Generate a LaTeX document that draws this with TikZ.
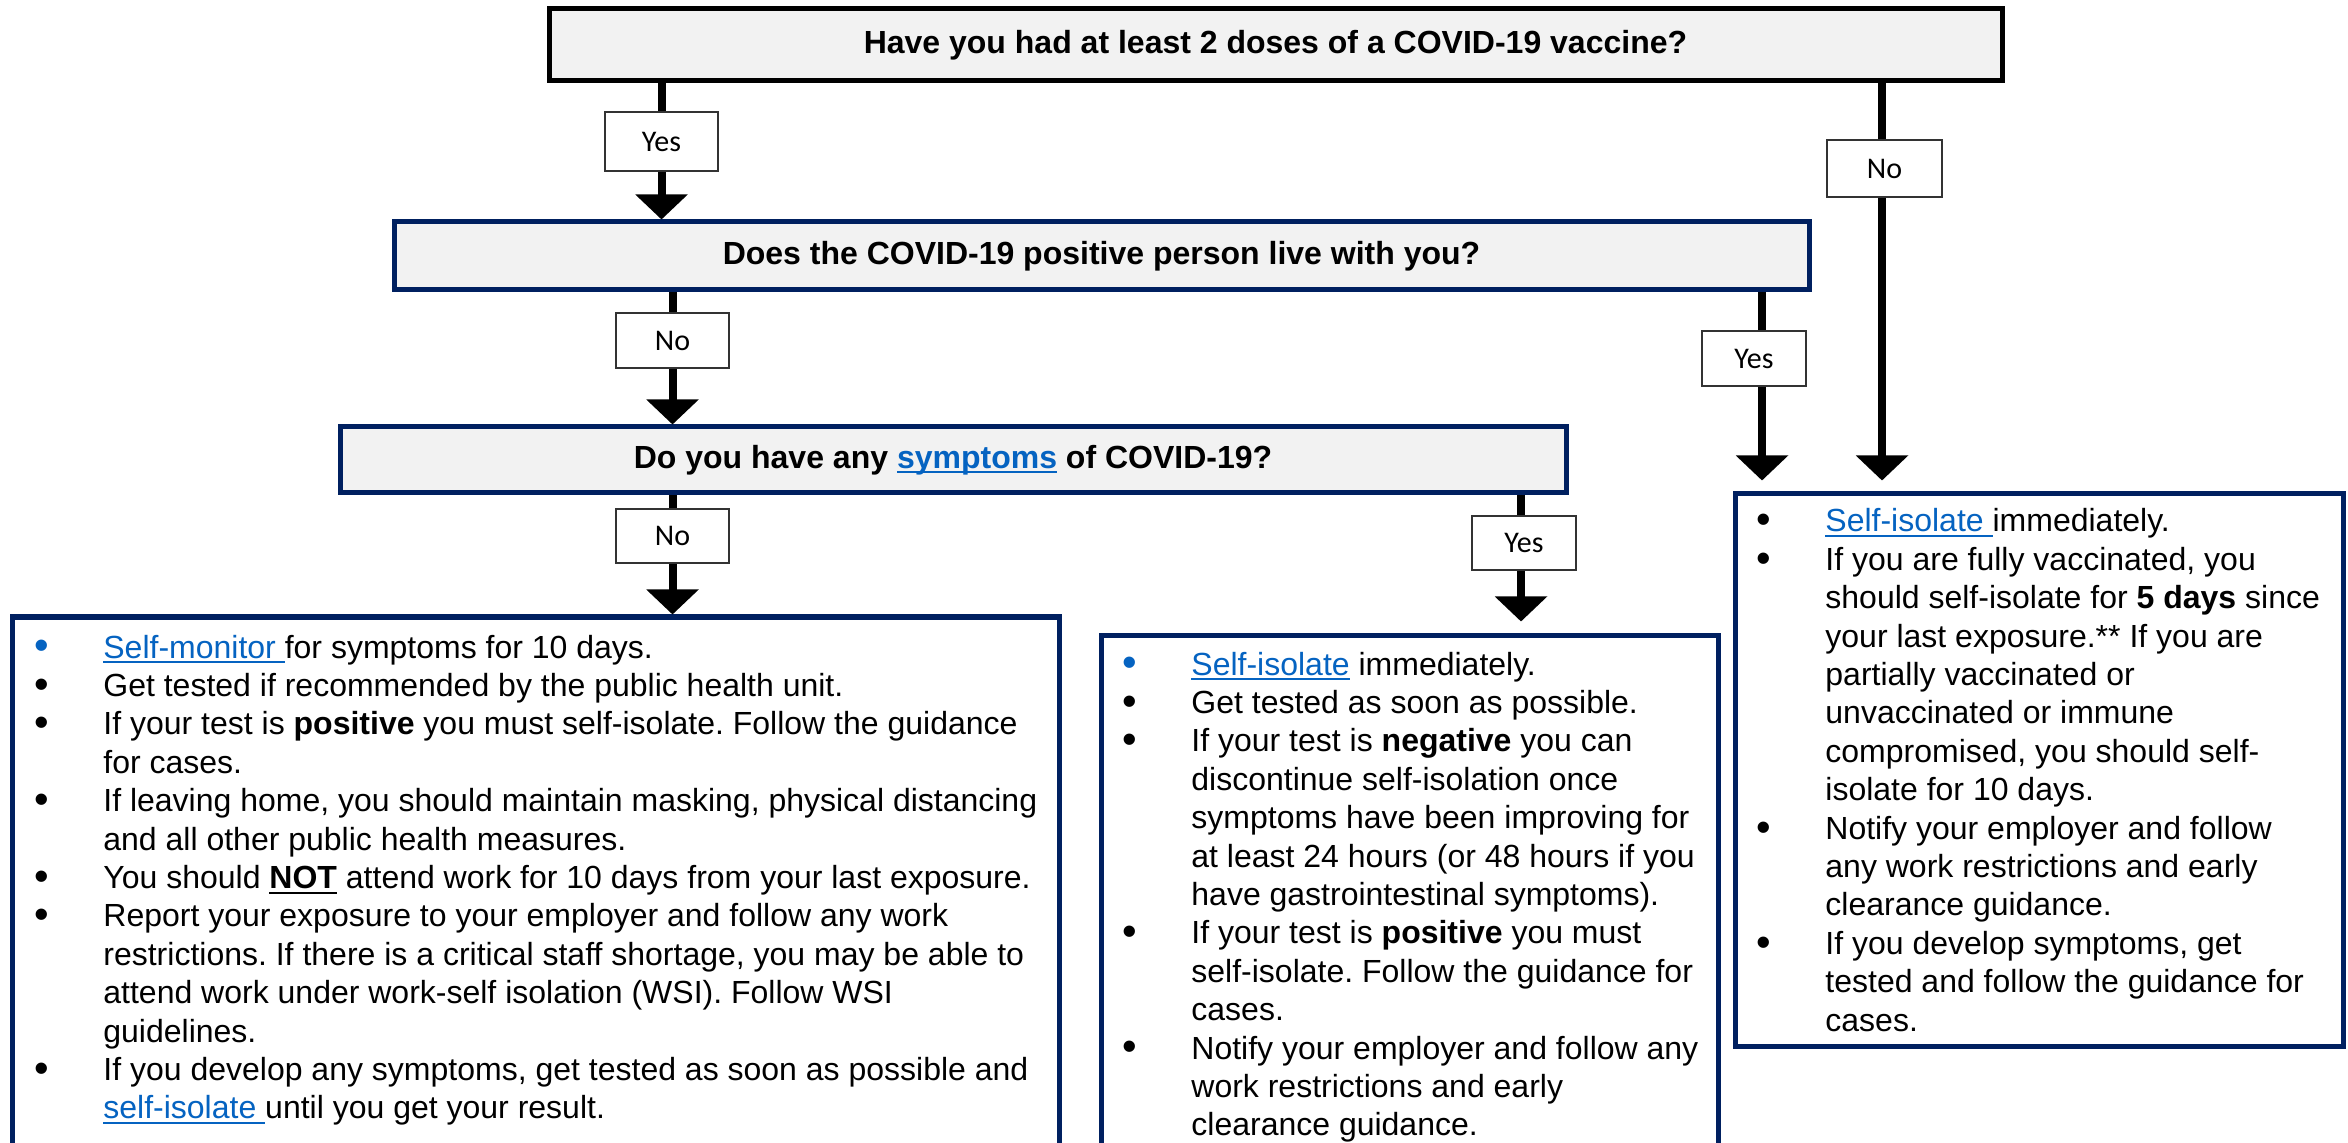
\documentclass[tikz,border=0pt]{standalone}
\usepackage{fontspec}
\setmainfont{Liberation Sans}
\newfontfamily\lblfont{Carlito}
\usetikzlibrary{arrows.meta}
\definecolor{navy}{HTML}{002060}
\definecolor{linkblue}{HTML}{0563C1}
\definecolor{qfill}{HTML}{F2F2F2}
\newcommand\myul[1]{\setbox0\hbox{#1}\rlap{\rule[-2.6pt]{\wd0}{1pt}}\box0\relax}
\newcommand\ulink[1]{\textcolor{linkblue}{\myul{#1}}}
\newcommand\bigbul{\raisebox{-0.06em}{\scalebox{1.3}{\textbullet}}}
\newcommand\mybul{\makebox[34.5pt][l]{\bigbul}}
\newcommand\mybulb{\makebox[34.5pt][l]{\textcolor{linkblue}{\bigbul}}}
\newcommand\myind{\hspace*{34.5pt}}
\tikzset{
 qbox/.style={draw=navy, fill=qfill, line width=2.5pt, inner sep=0pt, font=\bfseries\fontsize{16}{19.2}\selectfont},
 cbox/.style={draw=navy, fill=white, line width=2.5pt, inner sep=0pt},
 lbl/.style={draw=black!80, fill=white, line width=1pt, inner sep=0pt, font=\lblfont\fontsize{15}{18}\selectfont},
 conn/.style={line width=4pt},
 arr/.style={line width=4pt, -{Triangle[width=25.5pt,length=12.5pt]}},
 body/.style={inner sep=0pt, anchor=base west, font=\fontsize{16}{19.2}\selectfont},
}
\frenchspacing
\begin{document}
\begin{tikzpicture}[x=0.5pt,y=-0.5pt]
\useasboundingbox (0,0) rectangle (2348,1143);
\clip (0,0) rectangle (2348,1143);
% question boxes
\node[qbox, draw=black, minimum width=726.5pt, minimum height=36pt] (top) at (1275.5,45) {Have you had at least 2 doses of a COVID-19 vaccine?};
\node[qbox, minimum width=707.5pt, minimum height=34pt] (box2) at (1101.5,256) {Does the COVID-19 positive person live with you?};
\node[qbox, minimum width=613pt, minimum height=33pt] (box3) at (953,460) {Do you have any \ulink{symptoms} of COVID-19?};
% content boxes
\node[cbox, minimum width=523.5pt, minimum height=276.5pt] (lbox) at (535.5,893.5) {};
\node[cbox, minimum width=308.5pt, minimum height=267.5pt] (mbox) at (1409.5,902.5) {};
\node[cbox, minimum width=304pt, minimum height=276pt] (rbox) at (2039,770) {};
% labels
\node[lbl, minimum width=56.5pt, minimum height=29.5pt] (yes1) at (661.5,141.5) {Yes};
\node[lbl, minimum width=57.5pt, minimum height=28.5pt] (no1) at (1884.5,168.5) {No};
\node[lbl, minimum width=56.5pt, minimum height=27.5pt] (no2) at (672.5,340.5) {No};
\node[lbl, minimum width=52pt, minimum height=27.5pt] (yes2) at (1754,358.5) {Yes};
\node[lbl, minimum width=56.5pt, minimum height=27pt] (no3) at (672.5,536) {No};
\node[lbl, minimum width=52pt, minimum height=27pt] (yes3) at (1524,543) {Yes};
\coordinate (xno1) at (1882,0);
\coordinate (xyes2) at (1762,0);
\coordinate (xyes3) at (1521,0);
% connectors
\draw[conn] (top.south -| yes1) -- (yes1.north);
\draw[arr] (yes1.south) -- (box2.north -| yes1);
\draw[conn] (top.south -| xno1) -- (no1.north -| xno1);
\draw[arr, shorten >=5.5pt] (no1.south -| xno1) -- (rbox.north -| xno1);
\draw[conn] (box2.south -| no2) -- (no2.north);
\draw[arr] (no2.south) -- (box3.north -| no2);
\draw[conn] (box2.south -| xyes2) -- (yes2.north -| xyes2);
\draw[arr, shorten >=5.5pt] (yes2.south -| xyes2) -- (rbox.north -| xyes2);
\draw[conn] (box3.south -| no3) -- (no3.north);
\draw[arr] (no3.south) -- (lbox.north -| no3);
\draw[conn] (box3.south -| xyes3) -- (yes3.north -| xyes3);
\draw[arr, shorten >=5.5pt] (yes3.south -| xyes3) -- (mbox.north -| xyes3);
% texts
\node[body] (ltext) at (34,658) {\begin{tabular}[t]{@{}l@{}}
\mybulb\ulink{Self-monitor }for symptoms for 10 days.\\
\mybul Get tested if recommended by the public health unit.\\
\mybul If your test is \textbf{positive} you must self-isolate. Follow the guidance\\
\myind for cases.\\
\mybul If leaving home, you should maintain masking, physical distancing\\
\myind and all other public health measures.\\
\mybul You should \myul{\textbf{NOT}} attend work for 10 days from your last exposure.\\
\mybul Report your exposure to your employer and follow any work\\
\myind restrictions. If there is a critical staff shortage, you may be able to\\
\myind attend work under work-self isolation (WSI). Follow WSI\\
\myind guidelines.\\
\mybul If you develop any symptoms, get tested as soon as possible and\\
\myind \ulink{self-isolate }until you get your result.
\end{tabular}};
\node[body] (mtext) at (1122,675) {\begin{tabular}[t]{@{}l@{}}
\mybulb\ulink{Self-isolate} immediately.\\
\mybul Get tested as soon as possible.\\
\mybul If your test is \textbf{negative} you can\\
\myind discontinue self-isolation once\\
\myind symptoms have been improving for\\
\myind at least 24 hours (or 48 hours if you\\
\myind have gastrointestinal symptoms).\\
\mybul If your test is \textbf{positive} you must\\
\myind self-isolate. Follow the guidance for\\
\myind cases.\\
\mybul Notify your employer and follow any\\
\myind work restrictions and early\\
\myind clearance guidance.
\end{tabular}};
\node[body] (rtext) at (1756,532) {\begin{tabular}[t]{@{}l@{}}
\mybul\ulink{Self-isolate }immediately.\\
\mybul If you are fully vaccinated, you\\
\myind should self-isolate for \textbf{5 days} since\\
\myind your last exposure.** If you are\\
\myind partially vaccinated or\\
\myind unvaccinated or immune\\
\myind compromised, you should self-\\
\myind isolate for 10 days.\\
\mybul Notify your employer and follow\\
\myind any work restrictions and early\\
\myind clearance guidance.\\
\mybul If you develop symptoms, get\\
\myind tested and follow the guidance for\\
\myind cases.
\end{tabular}};
\end{tikzpicture}
\end{document}
